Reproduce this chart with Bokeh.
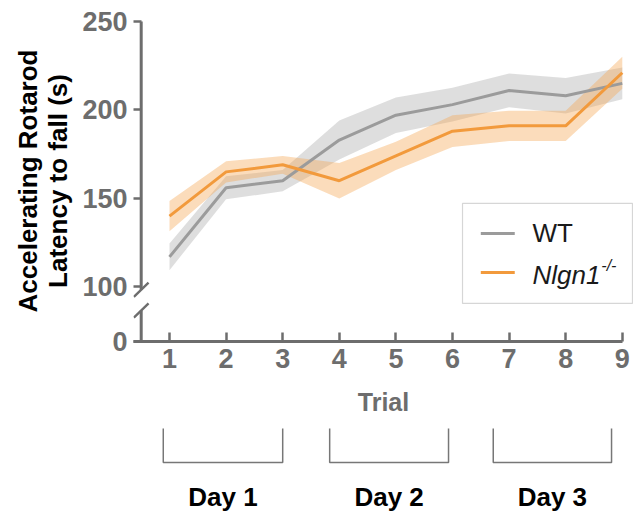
from bokeh.plotting import figure
from bokeh.models import Range1d, FixedTicker
from bokeh.core.properties import value
from bokeh.layouts import column
from bokeh.embed import file_html
from bokeh.resources import INLINE

# ---- data ----
trials = [1, 2, 3, 4, 5, 6, 7, 8, 9]
wt_mean = [117, 156, 160, 183, 197, 203, 211, 208, 215]
wt_sem = [7.5, 6.5, 6, 11, 10, 9.5, 9.5, 10, 9]
ko_mean = [140, 165, 169, 160, 174, 188, 191, 191, 221]
ko_sem = [8.5, 6, 5, 10, 8, 9, 8.5, 8.5, 9]
y_ticks = [100, 150, 200, 250]
day_labels = ["Day 1", "Day 2", "Day 3"]
day_first = [1, 4, 7]
day_last = [3, 6, 9]
series_names = ["WT", "Nlgn1"]

FONT = "Liberation Sans"
AX = "#6d6d6d"
GRAY = "#9b9b9b"
ORANGE = "#f29a3c"

Y_ZERO = 69.2          # where the 0 of the broken axis sits
X_START = 0.364
X_END = 9.198
Y_END = 250.5

p = figure(width=633, height=420, x_range=Range1d(X_START, X_END), y_range=Range1d(Y_ZERO, Y_END),
           output_backend="svg", toolbar_location=None,
           min_border_left=133, min_border_right=0, min_border_top=20, min_border_bottom=79)
p.outline_line_color = None
p.grid.visible = False
p.background_fill_color = "white"
p.border_fill_color = "white"

lo_wt = [m - s for m, s in zip(wt_mean, wt_sem)]
hi_wt = [m + s for m, s in zip(wt_mean, wt_sem)]
lo_ko = [m - s for m, s in zip(ko_mean, ko_sem)]
hi_ko = [m + s for m, s in zip(ko_mean, ko_sem)]

p.varea(x=trials, y1=lo_wt, y2=hi_wt, fill_color="#a8a8a8", fill_alpha=0.38)
p.varea(x=trials, y1=lo_ko, y2=hi_ko, fill_color="#f5a855", fill_alpha=0.40)
p.line(trials, wt_mean, line_color=GRAY, line_width=3)
p.line(trials, ko_mean, line_color=ORANGE, line_width=3)

# x axis
xa = p.xaxis[0]
xa.ticker = FixedTicker(ticks=trials)
xa.bounds = (X_START, 9)
xa.axis_line_color = AX
xa.axis_line_width = 3
xa.major_tick_line_color = AX
xa.major_tick_line_width = 2.5
xa.major_tick_in = 9
xa.major_tick_out = 0
xa.minor_tick_line_color = None
xa.major_label_text_font = FONT
xa.major_label_text_font_style = "bold"
xa.major_label_text_font_size = "27px"
xa.major_label_text_color = AX
xa.major_label_standoff = 7
xa.axis_label = "Trial"
xa.axis_label_text_font = FONT
xa.axis_label_text_font_style = "bold"
xa.axis_label_text_font_size = "25px"
xa.axis_label_text_color = AX
xa.axis_label_standoff = 17

# y axis (line drawn manually because of the break)
ya = p.yaxis[0]
ya.ticker = FixedTicker(ticks=[Y_ZERO] + y_ticks)
ya.major_label_overrides = {Y_ZERO: "0"}
ya.axis_line_color = None
ya.major_tick_line_color = AX
ya.major_tick_line_width = 2.5
ya.major_tick_in = 8
ya.major_tick_out = 0
ya.minor_tick_line_color = None
ya.major_label_text_font = FONT
ya.major_label_text_font_style = "bold"
ya.major_label_text_font_size = "27px"
ya.major_label_text_color = AX
ya.major_label_standoff = 6
ya.axis_label = "Accelerating Rotarod\nLatency to fall (s)"
ya.axis_label_text_font = FONT
ya.axis_label_text_font_style = "bold"
ya.axis_label_text_font_size = "26px"
ya.axis_label_text_color = "black"
ya.axis_label_text_line_height = 1.0
ya.axis_label_standoff = 6

# broken y-axis line with slashes
top_break = 98.4
low_break = 86.7
p.segment(x0=[0.5, 0.5], y0=[top_break, Y_ZERO], x1=[0.5, 0.5], y1=[250, low_break],
          line_color=AX, line_width=3)
dx, dy = 0.13, 4.0
p.segment(x0=[0.5 - dx, 0.5 - dx], y0=[top_break - dy, low_break - dy],
          x1=[0.5 + dx, 0.5 + dx], y1=[top_break + dy, low_break + dy],
          line_color=AX, line_width=2.4)

# legend (box, line samples, labels)
p.quad(left=[6.177], right=[9.18], top=[147.2], bottom=[90.7], fill_color="white",
       line_color="#d6d6d6", line_width=1.2)
p.segment(x0=[6.50, 6.50], y0=[130.2, 108.2], x1=[7.10, 7.10], y1=[130.2, 108.2],
          line_color=[GRAY, ORANGE], line_width=3)
p.text(x=[7.414], y=[130.2], text=[series_names[0]], text_baseline="middle",
       text_font=value(FONT), text_font_size="26px", text_color="#1a1a1a")
p.text(x=[7.414], y=[106.8], text=[series_names[1]], text_baseline="middle",
       text_font=value(FONT), text_font_style="italic", text_font_size="26px", text_color="#1a1a1a")
p.text(x=[8.63], y=[112.0], text=["-/-"], text_baseline="middle",
       text_font=value(FONT), text_font_style="italic", text_font_size="16px", text_color="#1a1a1a")

# ---- day brackets ----
p2 = figure(width=633, height=93, x_range=p.x_range, y_range=Range1d(93, 0),
            output_backend="svg", toolbar_location=None, x_axis_type=None, y_axis_type=None,
            min_border_left=133, min_border_right=0, min_border_top=0, min_border_bottom=0)
p2.outline_line_color = None
p2.grid.visible = False
left_pad = [0.11, 0.17, 0.28]
right_pad = [0.0, 0.07, 0.19]
xs, ys, cx = [], [], []
for f, l, lp, rp in zip(day_first, day_last, left_pad, right_pad):
    a, b = f - lp, l - rp
    xs.append([a, a, b, b])
    ys.append([8, 42, 42, 8])
    cx.append((a + b) / 2)
p2.multi_line(xs, ys, line_color="#777777", line_width=1.5)
p2.text(x=cx, y=[76] * 3, text=day_labels, text_align="center", text_baseline="middle",
        text_font=value(FONT), text_font_style="bold", text_font_size="26px",
        text_color="black")

layout = column(p, p2, spacing=0)
open("out.html", "w").write(file_html(layout, INLINE))
